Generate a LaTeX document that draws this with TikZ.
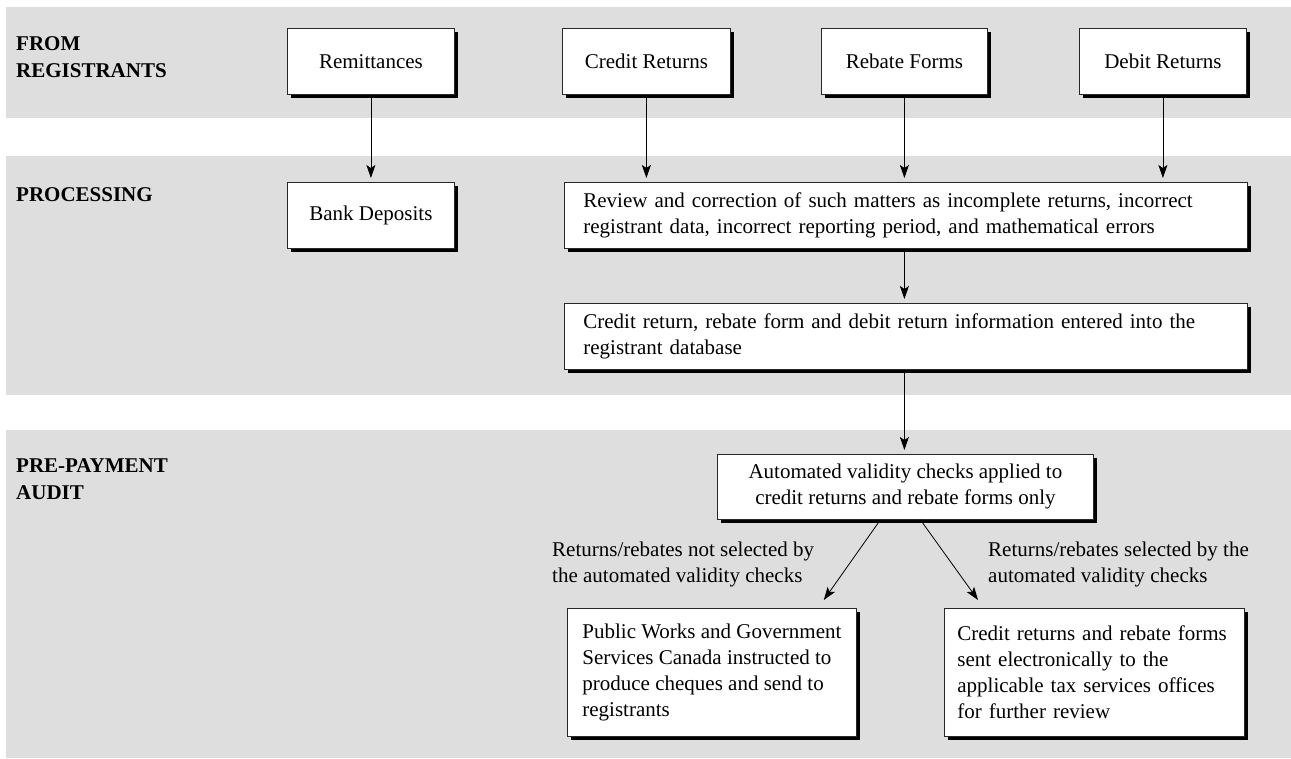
\documentclass[tikz,border=0pt]{standalone}
\usepackage{fontspec}
\setmainfont{Liberation Serif}
\usetikzlibrary{arrows.meta,shadows,calc}
\definecolor{bandgray}{RGB}{222,222,222}
\definecolor{boxline}{RGB}{40,40,40}
\begin{document}
\begin{tikzpicture}[x=1pt,y=-1pt,
  font=\fontsize{21}{26}\selectfont,
  band/.style={fill=bandgray, draw=none},
  box/.style={draw=boxline, line width=0.8pt, fill=white, anchor=north west,
    drop shadow={shadow xshift=3.5pt, shadow yshift=-3.5pt, fill=black, opacity=1},
    inner ysep=0pt},
  cbox/.style={box, inner xsep=0pt, align=center},
  lbox/.style={box, align=left},
  lbl/.style={font=\bfseries\fontsize{21}{27}\selectfont, align=left, inner sep=0pt, anchor=north west},
  note/.style={align=left, inner sep=0pt, anchor=north west},
  arr/.style={-{Stealth[length=13pt,width=9pt,inset=3pt]}, line width=0.8pt, shorten >=4pt}
]
\useasboundingbox (0,0) rectangle (1291,759);
% bands
\fill[band] (6,7) rectangle (1291,118);
\fill[band] (6,156) rectangle (1291,395);
\fill[band] (6,430) rectangle (1291,758);
% band labels
\node[lbl] (lfrom) at (16,36) {FROM\\REGISTRANTS};
\node[lbl] (lproc) at (16,187) {PROCESSING};
\node[lbl] (lpre) at (16,458) {PRE-PAYMENT\\AUDIT};
% top row
\node[cbox, minimum width=167pt, minimum height=66pt] (rem) at (287,28) {Remittances};
\node[cbox, minimum width=168pt, minimum height=66pt] (cred) at (562,28) {Credit Returns};
\node[cbox, minimum width=166pt, minimum height=66pt] (reb) at (821,28) {Rebate Forms};
\node[cbox, minimum width=167pt, minimum height=66pt] (deb) at (1079,28) {Debit Returns};
% processing
\node[cbox, minimum width=167pt, minimum height=66pt] (bank) at (287,182) {Bank Deposits};
\node[lbox, inner xsep=19pt, text width=645pt, minimum height=66pt] (rev) at (564,182)
  {Review and correction of such matters as incomplete returns, incorrect\\registrant data, incorrect reporting period, and mathematical errors};
\node[lbox, inner xsep=19pt, text width=645pt, minimum height=66pt] (ent) at (564,303)
  {Credit return, rebate form and debit return information entered into the\\registrant database};
% pre-payment audit
\node[cbox, minimum width=376pt, minimum height=65pt] (auto) at (717,454)
  {Automated validity checks applied to\\credit returns and rebate forms only};
\node[lbox, inner xsep=0pt, minimum width=289pt, minimum height=128pt] (pw) at (567,608)
  {Public Works and Government\\Services Canada instructed to\\produce cheques and send to\\registrants};
\node[lbox, inner xsep=13pt, text width=274pt, minimum height=128pt] (sent) at (944,608)
  {Credit returns and rebate forms\\sent electronically to the\\applicable tax services offices\\for further review};
\node[note] (nl) at (552,542) {Returns/rebates not selected by\\the automated validity checks};
\node[note] (nr) at (988,542) {Returns/rebates selected by the\\automated validity checks};
% arrows
\draw[arr] (rem.south) -- (bank.north);
\draw[arr] (cred.south) -- (cred.south |- rev.north);
\draw[arr] (reb.south) -- (reb.south |- rev.north);
\draw[arr] (deb.south) -- (deb.south |- rev.north);
\draw[arr] (reb.south |- rev.south) -- (reb.south |- ent.north);
\draw[arr] (reb.south |- ent.south) -- (reb.south |- auto.north);
\draw[arr, shorten >=0pt] ($(auto.south)+(-25,0)$) -- ($(pw.north east)+(-33,-8)$);
\draw[arr, shorten >=0pt] ($(auto.south)+(15,0)$) -- ($(sent.north west)+(34,-8)$);
\end{tikzpicture}
\end{document}
